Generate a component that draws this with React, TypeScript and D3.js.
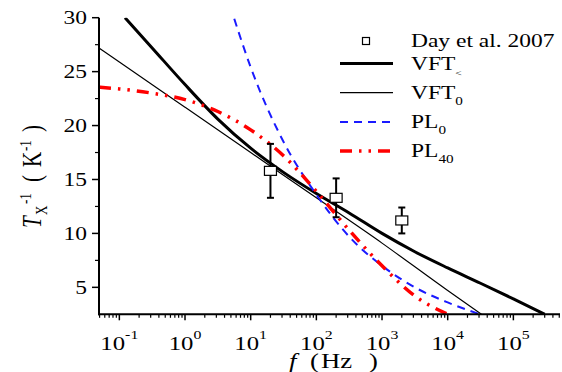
import * as d3 from "d3";

const W = 562;
const H = 372;
const SX = 1.27; // text in the figure is stretched sideways

// Day et al. 2007 measurements
const dayF = [20, 200, 2000];
const dayT = [15.8, 13.3, 11.2];
const dayErr = [2.5, 1.8, 1.2];

// VFT< (thick black)
const vftLtF = [0.122, 0.316, 1, 3.16, 10, 31.6, 100, 316, 1000, 3160, 10000, 31600, 100000, 300000];
const vftLtT = [30, 27.2, 23.8, 20.6, 17.9, 15.66, 13.7, 11.9, 10.0, 8.3, 6.8, 5.38, 3.93, 2.5];

// VFT0 (thin black)
const vft0F = [0.049, 0.1, 1, 10, 100, 1000, 10000, 32700];
const vft0T = [27.2, 25.9, 21.7, 17.5, 13.3, 9.1, 4.7, 2.5];

// PL0 (blue dashed)
const pl0F = [5.62, 10, 31.6, 100, 316, 1000, 3160, 10000, 30900];
const pl0T = [29.9, 25.4, 18.5, 13.6, 9.7, 7.0, 5.0, 3.6, 2.5];

// PL40 (red dash-dot-dot)
const pl40F = [0.049, 0.1, 0.316, 1, 3.16, 10, 31.6, 100, 316, 1000, 3160, 10000];
const pl40T = [23.55, 23.4, 23.0, 22.4, 21.3, 19.6, 17.2, 13.9, 10.3, 7.0, 4.2, 2.5];

const yTicks = [5, 10, 15, 20, 25, 30];
const yMinor = [7.5, 12.5, 17.5, 22.5, 27.5];
const xExps = [-1, 0, 1, 2, 3, 4, 5];

const left = 99;
const right = 560;
const top = 17.7;
const bottom = 314.3;

const x = d3.scaleLog().domain([0.049, 5.13e5]).range([left, right]);
const y = d3.scaleLinear().domain([2.5, 30]).range([bottom, top]);

const font = "'Liberation Serif', 'Times New Roman', serif";

const BLUE_DASH = "8,6";
const RED_DASH = "12,7,2.5,7,2.5,7";

const series = [
	{ name: "VFT", sub: "<", f: vftLtF, t: vftLtT, color: "#000", width: 3, dash: undefined },
	{ name: "VFT", sub: "0", f: vft0F, t: vft0T, color: "#000", width: 1.2, dash: undefined },
	{ name: "PL", sub: "0", f: pl0F, t: pl0T, color: "#1a1aff", width: 2, dash: BLUE_DASH },
	{ name: "PL", sub: "40", f: pl40F, t: pl40T, color: "#ff0000", width: 3.5, dash: RED_DASH },
];

function Txt({ x, y, anchor = "start", size = 18.5, children, rotate = false, italic = false }: any) {
	const tr = `translate(${x},${y}) scale(${SX},1)${rotate ? " rotate(-90)" : ""}`;
	return (
		<text
			transform={tr}
			textAnchor={anchor}
			fontSize={size}
			fontFamily={font}
			fontStyle={italic ? "italic" : undefined}
			fill="#000"
		>
			{children}
		</text>
	);
}

export default function App() {
	const line = d3
		.line<[number, number]>()
		.x((d) => x(d[0]))
		.y((d) => y(d[1]))
		.curve(d3.curveMonotoneX);

	const minorX: number[] = [];
	for (let e = -2; e <= 5; e++) {
		for (let m = 2; m <= 9; m++) {
			const v = m * Math.pow(10, e);
			if (v >= 0.049 && v <= 5.13e5) minorX.push(v);
		}
	}

	const legY0 = 41;
	const legStep = 29.2;

	return (
		<svg width={W} height={H} style={{ position: "absolute", left: 0, top: 0, background: "#fff" }}>
			<defs>
				<clipPath id="plot">
					<rect x={left} y={top} width={right - left} height={bottom - top} />
				</clipPath>
			</defs>

			{/* curves */}
			<g clipPath="url(#plot)">
				{series.map((s, i) => (
					<path
						key={i}
						d={line(s.f.map((f, j) => [f, s.t[j]] as [number, number])) || ""}
						fill="none"
						stroke={s.color}
						strokeWidth={s.width}
						strokeDasharray={s.dash}
					/>
				))}
			</g>

			{/* Day et al. points */}
			{dayF.map((f, i) => {
				const cx = x(f);
				return (
					<g key={i}>
						<line x1={cx} x2={cx} y1={y(dayT[i] + dayErr[i])} y2={y(dayT[i] - dayErr[i])} stroke="#000" strokeWidth={2} />
						<line x1={cx - 3.5} x2={cx + 3.5} y1={y(dayT[i] + dayErr[i])} y2={y(dayT[i] + dayErr[i])} stroke="#000" strokeWidth={2} />
						<line x1={cx - 3.5} x2={cx + 3.5} y1={y(dayT[i] - dayErr[i])} y2={y(dayT[i] - dayErr[i])} stroke="#000" strokeWidth={2} />
						<rect x={cx - 6} y={y(dayT[i]) - 4.5} width={12} height={9} fill="#fff" stroke="#000" strokeWidth={1.2} />
					</g>
				);
			})}

			{/* axes */}
			<line x1={left} x2={left} y1={top} y2={bottom + 1} stroke="#000" strokeWidth={2} />
			<line x1={left - 1} x2={right} y1={bottom} y2={bottom} stroke="#000" strokeWidth={2} />
			{yTicks.map((t) => (
				<g key={t}>
					<line x1={left - 7} x2={left} y1={y(t)} y2={y(t)} stroke="#000" strokeWidth={1.5} />
					<Txt x={87} y={y(t) + 6.3} anchor="end">
						{t}
					</Txt>
				</g>
			))}
			{yMinor.map((t) => (
				<line key={t} x1={left - 4} x2={left} y1={y(t)} y2={y(t)} stroke="#000" strokeWidth={1.2} />
			))}
			{xExps.map((e) => (
				<g key={e}>
					<line x1={x(Math.pow(10, e))} x2={x(Math.pow(10, e))} y1={bottom} y2={bottom + 6} stroke="#000" strokeWidth={1.5} />
					<Txt x={x(Math.pow(10, e))} y={350} anchor="middle" size={19.5}>
						10
						<tspan fontSize={12.5} dy={-11}>
							{e}
						</tspan>
					</Txt>
				</g>
			))}
			{minorX.map((v, i) => (
				<line key={i} x1={x(v)} x2={x(v)} y1={bottom} y2={bottom + 3.5} stroke="#000" strokeWidth={1.2} />
			))}

			{/* x title, pieces spaced as in the figure */}
			<Txt x={289} y={368} size={21} italic>
				f
			</Txt>
			<Txt x={310} y={368} size={21}>
				(
			</Txt>
			<Txt x={321} y={368} size={21}>
				Hz
			</Txt>
			<Txt x={369} y={368} size={21}>
				)
			</Txt>

			{/* y title, rotated */}
			<Txt x={41} y={228} size={21} rotate>
				<tspan x={0} y={0} fontStyle="italic">
					T
				</tspan>
				<tspan x={13} y={5} fontSize={13}>
					X
				</tspan>
				<tspan x={24} y={-8} fontSize={13}>
					-1
				</tspan>
				<tspan x={46} y={0}>
					(
				</tspan>
				<tspan x={61} y={0}>
					K
				</tspan>
				<tspan x={77} y={-8} fontSize={13}>
					-1
				</tspan>
				<tspan x={96} y={0}>
					)
				</tspan>
			</Txt>

			{/* legend */}
			<rect x={362.5} y={legY0 - 3.5} width={7} height={7} fill="#fff" stroke="#000" strokeWidth={1.2} />
			<Txt x={411} y={legY0 + 6.3}>
				Day et al. 2007
			</Txt>
			{series.map((s, i) => {
				const ly = legY0 + legStep * (i + 0.77);
				return (
					<g key={i}>
						<line x1={340} x2={393} y1={ly} y2={ly} stroke={s.color} strokeWidth={s.width} strokeDasharray={s.dash} />
						<Txt x={411} y={ly + 6.3}>
							{s.name}
							<tspan fontSize={s.sub === "<" ? 9 : 12} dy={6}>
								{s.sub}
							</tspan>
						</Txt>
					</g>
				);
			})}
		</svg>
	);
}
